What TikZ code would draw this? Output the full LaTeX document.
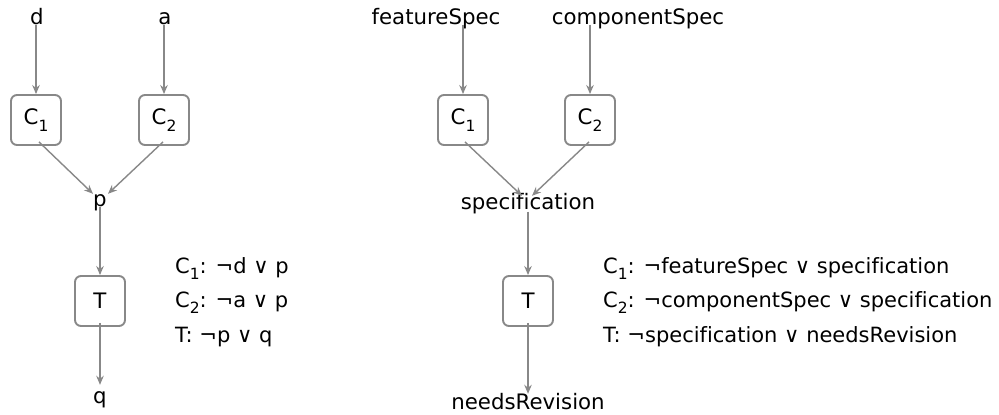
\documentclass[tikz,border=0pt]{standalone}
\usepackage{fontspec}
\setmainfont{DejaVu Sans}[Ligatures=NoCommon]
\usetikzlibrary{arrows.meta}
\definecolor{edge}{HTML}{888888}
% lowered small index digit, as in C_1
\newcommand\idx[1]{\raisebox{-0.3em}{\fontsize{15.5}{15.5}\selectfont #1}}
\begin{document}
\begin{tikzpicture}[x=1pt,y=-1pt,font=\fontsize{21.3}{25}\selectfont,
  box/.style={draw=edge,line width=1.9pt,rounded corners=6pt,minimum width=50pt,minimum height=50pt,inner sep=0},
  lbl/.style={inner sep=0,text height=16pt,text depth=4.5pt,anchor=base},
  arr/.style={draw=edge,line width=1.4pt,-{Stealth[length=9pt,width=7.5pt]}},
  clause/.style={anchor=base west,inner sep=0,font=\fontsize{21}{25}\selectfont}]
\useasboundingbox (0,0) rectangle (999,415);

% ---------- left: d, a -> p -> q ----------
\node[lbl] (d) at (37,24) {d};
\node[lbl] (a) at (165,24) {a};
\node[box] (c1l) at (36,120) {C\idx{1}};
\node[box] (c2l) at (164,120) {C\idx{2}};
\node[lbl] (p) at (100,206) {p};
\node[box] (tl) at (100,301) {T};
\node[lbl] (q) at (100,403) {q};

\draw[arr] ([yshift=4]d.south -| c1l.north) -- (c1l.north);
\draw[arr] ([yshift=4]a.south -| c2l.north) -- (c2l.north);
\draw[arr] ([xshift=3,yshift=4]c1l.south) -- ([xshift=-7,yshift=-4]p.north);
\draw[arr] ([xshift=-1,yshift=4]c2l.south) -- ([xshift=8,yshift=-4]p.north);
\draw[arr] ([yshift=4]p.south) -- (tl.north);
\draw[arr] ([yshift=4]tl.south) -- ([yshift=2]q.north);

\node[clause] (l1) at (175,273) {C\idx{1}: ¬d ∨ p};
\node[clause] (l2) at (175,307) {C\idx{2}: ¬a ∨ p};
\node[clause] (l3) at (175,342) {T: ¬p ∨ q};

% ---------- right: specifications -> needsRevision ----------
\node[lbl] (fs) at (436,24) {featureSpec};
\node[lbl] (cs) at (638,24) {componentSpec};
\node[box] (c1r) at (463,120) {C\idx{1}};
\node[box] (c2r) at (590,120) {C\idx{2}};
\node[lbl] (sp) at (528,209) {specification};
\node[box] (tr) at (528,301) {T};
\node[lbl] (nr) at (528,409) {needsRevision};

\draw[arr] ([yshift=4]fs.south -| c1r.north) -- (c1r.north);
\draw[arr] ([yshift=4]cs.south -| c2r.north) -- (c2r.north);
\draw[arr] ([xshift=2,yshift=4]c1r.south) -- ([xshift=-6,yshift=-3]sp.north);
\draw[arr] ([xshift=-1,yshift=4]c2r.south) -- ([xshift=4,yshift=-3]sp.north);
\draw[arr] ([yshift=2]sp.south) -- (tr.north);
\draw[arr] ([yshift=4]tr.south) -- ([yshift=-1]nr.north);

\node[clause] (r1) at (603,273) {C\idx{1}: ¬featureSpec ∨ specification};
\node[clause] (r2) at (603,307) {C\idx{2}: ¬componentSpec ∨ specification};
\node[clause] (r3) at (603,342) {T: ¬specification ∨ needsRevision};
\end{tikzpicture}
\end{document}
